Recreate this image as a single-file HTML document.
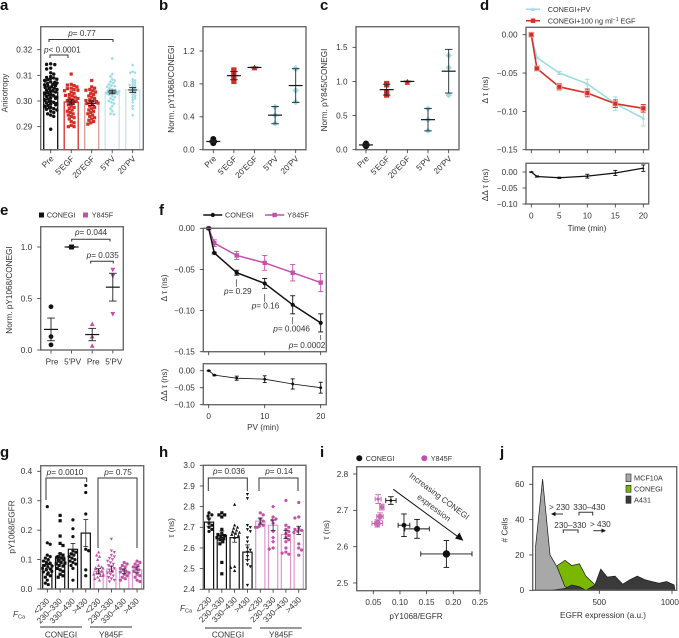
<!DOCTYPE html>
<html lang="en">
<head>
<meta charset="utf-8">
<title>Multi-panel anisotropy and EGFR figure</title>
<style>
html,body{margin:0;padding:0;background:#fff;}
svg{display:block;font-family:"Liberation Sans",Arial,sans-serif;fill:#333;filter:blur(0.3px);}
text{font-size:8.2px;fill:#333;}
.pl{font-size:15px;font-weight:bold;fill:#111;}
.sm{font-size:7.3px;}
.it{font-style:italic;}
</style>
</head>
<body>
<svg id="fig" xmlns="http://www.w3.org/2000/svg" width="679" height="638" viewBox="0 0 679 638">
<g>
<text class="pl" x="0" y="10">a</text>
<text class="pl" x="159" y="10">b</text>
<text class="pl" x="320" y="10">c</text>
<text class="pl" x="480" y="10">d</text>
<text class="pl" x="0" y="215">e</text>
<text class="pl" x="159" y="215">f</text>
<text class="pl" x="0" y="457">g</text>
<text class="pl" x="159" y="457">h</text>
<text class="pl" x="320" y="457">i</text>
<text class="pl" x="500" y="457">j</text>
</g>
<g text-anchor="middle">
<text transform="translate(7.5,93) rotate(-90)">Anisotropy</text>
<text transform="translate(174,89) rotate(-90)">Norm. pY1068/CONEGI</text>
<text transform="translate(327,90) rotate(-90)">Norm. pY845/CONEGI</text>
<text transform="translate(488,90) rotate(-90)">Δ τ (ns)</text>
<text transform="translate(488,185) rotate(-90)">ΔΔ τ (ns)</text>
<text x="587" y="231">Time (min)</text>
<text transform="translate(12,290) rotate(-90)">Norm. pY1068/CONEGI</text>
<text transform="translate(167,288) rotate(-90)">Δ τ (ns)</text>
<text transform="translate(167,385) rotate(-90)">ΔΔ τ (ns)</text>
<text x="263" y="430">PV (min)</text>
<text transform="translate(14.5,527) rotate(-90)">pY1068/EGFR</text>
<text transform="translate(174,528) rotate(-90)">τ (ns)</text>
<text transform="translate(329,530) rotate(-90)">τ (ns)</text>
<text x="416" y="619">pY1068/EGFR</text>
<text transform="translate(507.5,530) rotate(-90)"># Cells</text>
<text x="603" y="618">EGFR expression (a.u.)</text>
</g>
<g id="marks"></g>
<g fill="none" stroke="#333" stroke-width="1">
<path d="M50 58V55H68V58"/>
<path d="M49 42V39.5H113V42"/>
<path d="M71.7 241.5V239.3H110V241.5"/>
<path d="M90.7 263.5V261.3H113.3V263.5"/>
<path d="M46 500V478H86.7V482"/>
<path d="M98 548V478H137V548"/>
<path d="M208.3 491V478H247.3V491"/>
<path d="M259 491V478H298V491"/>
<path d="M236.3 279.3V286.7M264.7 294V301.7M292.7 317V324.3M320.7 335V340" stroke-width="0.7"/>
<path d="M40 627H82M90 627H132M205 628H251.7M260 628H301.7" stroke-width="0.9"/>
<path d="M393.3 489.3L459 537.5" stroke="#111"/>
<path d="M463.3 540.7L455 538.5L459.5 532.5Z" fill="#111" stroke="none"/>
<path d="M563 514H554"/>
<path d="M551 514L555.5 511.8V516.2Z" fill="#111" stroke="none"/>
<path d="M593.3 530.7H603"/>
<path d="M606 530.7L601.5 528.5V532.9Z" fill="#111" stroke="none"/>
<path d="M579 515.5V512.3H592.7V515.5"/>
<path d="M563.3 533V530H578V533"/>
</g>
<g>
<text x="44" y="52.5"><tspan class="it">p</tspan>&lt; 0.0001</text>
<text x="82" y="36" text-anchor="middle"><tspan class="it">p</tspan>= 0.77</text>
<text x="91" y="235" text-anchor="middle"><tspan class="it">p</tspan>= 0.044</text>
<text x="102.7" y="258" text-anchor="middle"><tspan class="it">p</tspan>= 0.035</text>
<text x="224" y="294"><tspan class="it">p</tspan>= 0.29</text>
<text x="251.7" y="308.5"><tspan class="it">p</tspan>= 0.16</text>
<text x="273.3" y="331.5"><tspan class="it">p</tspan>= 0.0046</text>
<text x="288.7" y="347.8"><tspan class="it">p</tspan>= 0.0002</text>
<text x="65" y="475" text-anchor="middle"><tspan class="it">p</tspan>= 0.0010</text>
<text x="118" y="475" text-anchor="middle"><tspan class="it">p</tspan>= 0.75</text>
<text x="229" y="474" text-anchor="middle"><tspan class="it">p</tspan>= 0.036</text>
<text x="279" y="474" text-anchor="middle"><tspan class="it">p</tspan>= 0.14</text>
<text x="61" y="637.5" text-anchor="middle">CONEGI</text>
<text x="111" y="637.5" text-anchor="middle">Y845F</text>
<text x="228" y="637.5" text-anchor="middle">CONEGI</text>
<text x="281" y="637.5" text-anchor="middle">Y845F</text>
<text x="13" y="617"><tspan class="it">F</tspan><tspan font-size="5.5" dy="1.5">Ca</tspan></text>
<text x="180" y="611"><tspan class="it">F</tspan><tspan font-size="5.5" dy="1.5">Ca</tspan></text>
<text transform="translate(437.7,498.3) rotate(36.8)" text-anchor="middle">Increasing CONEGI</text>
<text transform="translate(432.3,510) rotate(36.8)" text-anchor="middle">expression</text>
<text x="549" y="510">&gt; 230</text>
<text x="573.3" y="510">330–430</text>
<text x="554.3" y="528">230–330</text>
<text x="590" y="527">&gt; 430</text>
</g>
<g>
<text class="sm" x="547.7" y="12">CONEGI+PV</text>
<text class="sm" x="547.7" y="23.4">CONEGI+100 ng ml<tspan font-size="5" dy="-2.5">−1</tspan><tspan dy="2.5"> EGF</tspan></text>
<rect x="39" y="212.5" width="5" height="5" fill="#111"/>
<text class="sm" x="46.7" y="217.6">CONEGI</text>
<rect x="83" y="212.5" width="5" height="5" fill="#c450a8"/>
<text class="sm" x="91.7" y="217.6">Y845F</text>
<text class="sm" x="225" y="217.6">CONEGI</text>
<text class="sm" x="287.3" y="217.6">Y845F</text>
<circle cx="359.3" cy="458.3" r="3" fill="#111"/>
<text class="sm" x="365.7" y="461">CONEGI</text>
<circle cx="424.3" cy="458.3" r="3" fill="#c450a8"/>
<text class="sm" x="430.7" y="461">Y845F</text>
<rect x="626" y="474" width="5" height="7.7" fill="#a8a8a8" stroke="#222" stroke-width="0.6"/>
<text class="sm" x="634" y="480.6">MCF10A</text>
<rect x="626" y="485.3" width="5" height="7" fill="#7ab800" stroke="#222" stroke-width="0.6"/>
<text class="sm" x="634" y="491.6">CONEGI</text>
<rect x="626" y="496" width="5" height="7.3" fill="#3a3a3a" stroke="#222" stroke-width="0.6"/>
<text class="sm" x="634" y="502.6">A431</text>
</g>
</svg>
<script>
// ---- Panel a data ----
const aCategories = ["Pre", "5'EGF", "20'EGF", "5'PV", "20'PV"];
const aYTicks = [0.29, 0.30, 0.31, 0.32];
const aMeans = [0.3035, 0.2996, 0.2991, 0.3035, 0.3043];
const aErrors = [0.0008, 0.0008, 0.0009, 0.0007, 0.0009];
const aPre = [0.3145,0.3143,0.3142,0.3128,0.3125,0.311,0.3105,0.3095,0.3092,0.309,0.3088,0.3085,0.3083,0.308,0.3078,0.3075,0.3073,0.307,0.3068,0.3065,0.3063,0.306,0.3058,0.3055,0.3053,0.305,0.3048,0.3045,0.3043,0.304,0.3038,0.3035,0.3033,0.303,0.3028,0.3025,0.3023,0.302,0.3018,0.3015,0.3013,0.301,0.3008,0.3005,0.3003,0.3,0.2998,0.2995,0.2993,0.299,0.2988,0.2985,0.2983,0.298,0.2978,0.2975,0.2973,0.297,0.2968,0.2965,0.296,0.2955,0.295,0.2945,0.294,0.289];
const aEgf5 = [0.3105,0.3065,0.3062,0.306,0.3055,0.305,0.3048,0.3045,0.3042,0.304,0.3035,0.303,0.3025,0.3022,0.302,0.3015,0.3012,0.301,0.3005,0.3002,0.3,0.2998,0.2995,0.299,0.2985,0.298,0.2975,0.297,0.2965,0.296,0.2955,0.295,0.2945,0.294,0.2935,0.293,0.292,0.2915,0.2905,0.29,0.29];
const aEgf20 = [0.308,0.3055,0.305,0.3045,0.3042,0.304,0.3035,0.303,0.3025,0.302,0.3015,0.301,0.3005,0.3002,0.3,0.2998,0.2995,0.2992,0.299,0.2985,0.298,0.2975,0.297,0.2965,0.296,0.2955,0.295,0.2945,0.294,0.2935,0.293,0.2925,0.292,0.2915,0.291];
const aPv5 = [0.3165,0.3105,0.3095,0.3085,0.308,0.3075,0.307,0.3065,0.306,0.3058,0.3055,0.305,0.3045,0.3042,0.304,0.3038,0.3035,0.3032,0.303,0.3028,0.3025,0.302,0.3015,0.301,0.3005,0.3,0.2995,0.299,0.298,0.297,0.296,0.295,0.2948];
const aPv20 = [0.314,0.3115,0.311,0.311,0.3085,0.308,0.3075,0.307,0.3065,0.3062,0.306,0.3055,0.305,0.3045,0.304,0.3035,0.303,0.3025,0.302,0.3015,0.301,0.3005,0.2995,0.298,0.297,0.2945];
// ---- Panel b data ----
const bCategories = ["Pre", "5'EGF", "20'EGF", "5'PV", "20'PV"];
const bYTicks = [0, 0.4, 0.8, 1.2];
const bMeans = [0.1, 0.9, 1.0, 0.42, 0.78];
const bErrors = [0.012, 0.05, 0.005, 0.105, 0.205];
const bPoints = [[0.08,0.09,0.1,0.11,0.13],[0.83,0.87,0.9,0.92,0.96,0.97],[1.0,1.0,0.99],[0.32,0.42,0.52],[0.58,0.72,0.98,0.99]];
// ---- Panel c data ----
const cCategories = ["Pre", "5'EGF", "20'EGF", "5'PV", "20'PV"];
const cYTicks = [0, 0.5, 1.0, 1.5];
const cMeans = [0.07, 0.88, 1.0, 0.44, 1.15];
const cErrors = [0.015, 0.08, 0.005, 0.165, 0.32];
const cPoints = [[0.05,0.07,0.09],[0.8,0.84,0.95,0.97],[1.0,0.98],[0.28,0.44,0.6],[0.8,1.2,1.38]];
// ---- Panel d data ----
const dTimes = [0, 1, 5, 10, 15, 20];
const dYTicks = [0, -0.05, -0.10, -0.15];
const dPv = [0, -0.03, -0.05, -0.064, -0.09, -0.109];
const dPvErr = [0.001, 0.001, 0.002, 0.006, 0.009, 0.01];
const dEgf = [0, -0.044, -0.068, -0.076, -0.09, -0.096];
const dEgfErr = [0.002, 0.003, 0.004, 0.005, 0.005, 0.005];
const dDiff = [0, -0.014, -0.018, -0.013, -0.003, 0.012];
const dDiffErr = [0.001, 0.002, 0.002, 0.006, 0.008, 0.01];
const dDiffTicks = [0, -0.05, -0.10];
const dXTicks = [0, 5, 10, 15, 20];
// ---- Panel e data ----
const eCategories = ["Pre", "5'PV", "Pre", "5'PV"];
const eYTicks = [0, 0.5, 1.0];
const eMeans = [0.2, 1.0, 0.15, 0.61];
const eErrors = [0.11, 0.003, 0.06, 0.135];
const ePoints = [[0.42,0.13,0.05],[1.0,1.0,1.0],[0.25,0.13,0.04],[0.78,0.72,0.35]];
// ---- Panel f data ----
const fTimes = [0, 1, 5, 10, 15, 20];
const fYTicks = [0, -0.05, -0.10, -0.15];
const fConegi = [0, -0.03, -0.054, -0.067, -0.093, -0.115];
const fConegiErr = [0.001, 0.001, 0.003, 0.006, 0.011, 0.011];
const fY845 = [0, -0.018, -0.033, -0.042, -0.054, -0.066];
const fY845Err = [0.001, 0.004, 0.005, 0.009, 0.01, 0.011];
const fDiff = [0, -0.013, -0.022, -0.025, -0.039, -0.05];
const fDiffErr = [0.001, 0.002, 0.006, 0.01, 0.015, 0.016];
const fDiffTicks = [0, -0.05, -0.10];
const fXTicks = [0, 10, 20];
// ---- Panel g data ----
const gCategories = ["<230", "230–330", "330–430", ">430", "<230", "230–330", "330–430", ">430"];
const gYTicks = [0, 0.1, 0.2, 0.3, 0.4];
const gMeans = [0.083, 0.108, 0.135, 0.19, 0.06, 0.068, 0.06, 0.065];
const gErrors = [0.012, 0.012, 0.02, 0.046, 0.009, 0.01, 0.008, 0.01];
const gPoints = [
[0.28,0.157,0.152,0.115,0.11,0.105,0.1,0.095,0.09,0.088,0.085,0.08,0.078,0.075,0.07,0.068,0.065,0.06,0.058,0.055,0.05,0.045,0.04,0.03,0.02,0.015],
[0.25,0.232,0.18,0.155,0.148,0.12,0.115,0.11,0.108,0.105,0.1,0.098,0.095,0.09,0.088,0.085,0.08,0.078,0.07,0.065,0.06,0.05,0.045,0.04],
[0.235,0.205,0.178,0.13,0.125,0.12,0.115,0.11,0.105,0.1,0.095,0.09,0.085,0.08,0.07,0.03],
[0.352,0.328,0.255,0.135,0.13,0.065,0.045],
[0.125,0.115,0.11,0.1,0.08,0.075,0.072,0.07,0.068,0.065,0.06,0.06,0.055,0.055,0.05,0.05,0.045,0.045,0.04,0.035,0.03],
[0.17,0.13,0.125,0.115,0.11,0.105,0.1,0.095,0.09,0.085,0.08,0.075,0.07,0.065,0.06,0.055,0.05,0.045,0.04,0.035,0.03,0.025],
[0.09,0.085,0.08,0.075,0.07,0.065,0.06,0.058,0.055,0.05,0.045,0.04,0.035,0.03],
[0.095,0.09,0.085,0.08,0.075,0.07,0.065,0.06,0.05,0.045,0.04,0.03,0.025]];
// ---- Panel h data ----
const hCategories = ["<230", "230–330", "330–430", ">430", "<230", "230–330", "330–430", ">430"];
const hYTicks = [2.4, 2.5, 2.6, 2.7, 2.8, 2.9, 3.0];
const hMeans = [2.725, 2.66, 2.65, 2.58, 2.73, 2.71, 2.665, 2.685];
const hErrors = [0.02, 0.022, 0.022, 0.035, 0.015, 0.025, 0.02, 0.02];
const hPoints = [
[2.77,2.76,2.755,2.74,2.72,2.71,2.7,2.69,2.68],
[2.77,2.76,2.76,2.75,2.69,2.67,2.665,2.66,2.655,2.65,2.645,2.64,2.63,2.62,2.53,2.475],
[2.81,2.71,2.7,2.695,2.685,2.68,2.675,2.67,2.665,2.66,2.65,2.51,2.505,2.49],
[2.86,2.84,2.71,2.7,2.69,2.68,2.65,2.63,2.6,2.59,2.58,2.56,2.54,2.52,2.51,2.42],
[2.77,2.76,2.74,2.73,2.72,2.71,2.705,2.7,2.7],
[2.8,2.75,2.74,2.735,2.72,2.68,2.65,2.63,2.6,2.595],
[2.83,2.71,2.7,2.69,2.68,2.67,2.66,2.65,2.64,2.63,2.6,2.58,2.575,2.57],
[2.82,2.75,2.745,2.695,2.69,2.685,2.68,2.675,2.62,2.6,2.59,2.565]];
// ---- Panel i data ----
const iXTicks = [0.05, 0.10, 0.15, 0.20, 0.25];
const iYTicks = [2.5, 2.6, 2.7, 2.8];
const iConegiX = [0.083, 0.1075, 0.132, 0.187];
const iConegiY = [2.727, 2.659, 2.649, 2.58];
const iConegiXErr = [0.0097, 0.011, 0.023, 0.048];
const iConegiYErr = [0.0105, 0.031, 0.026, 0.037];
const iY845X = [0.059, 0.066, 0.0625, 0.0575];
const iY845Y = [2.731, 2.709, 2.683, 2.664];
const iY845XErr = [0.0056, 0.004, 0.006, 0.01];
const iY845YErr = [0.012, 0.008, 0.01, 0.01];
// ---- Panel j data ----
const jXTicks = [500, 1000];
const jYTicks = [0, 20, 40, 60];
const jMcfX = [62, 62, 110, 161, 211, 264, 310, 367];
const jMcfY = [0, 25, 63, 20, 13, 2, 1, 0];
const jConegiX = [75, 115, 161, 211, 264, 310, 363, 408, 459, 505, 615, 625];
const jConegiY = [0, 1, 5, 14, 17, 14, 15, 8, 4, 1, 1, 0];
const jA431X = [161, 264, 310, 363, 408, 470, 510, 555, 608, 661, 711, 761, 814, 860, 912, 963, 1015, 1020];
const jA431Y = [0, 1, 3, 2, 0, 3, 12, 7.5, 8, 3.5, 6, 8, 6, 5, 4, 5, 3, 0];

const NS = "http://www.w3.org/2000/svg";
const root = document.getElementById("marks");
const C = {black:"#111", red:"#d32f27", redL:"#e39a95", blue:"#9fdce4", blueL:"#c2e8ec", mag:"#c450a8", magL:"#dc9ad0", frame:"#6a6a6a", tick:"#333"};

function mk(parent, tag, name, attrs, text) {
  const el = document.createElementNS(NS, tag);
  
  
  for (const k in attrs) el.setAttribute(k, attrs[k]);
  if (text !== undefined) el.textContent = text;
  parent.appendChild(el);
  return el;
}
// linear scale through two calibration anchors (data a -> pixel pa, data b -> pixel pb)
function lin(a, pa, b, pb) { return v => pa + (v - a) * (pb - pa) / (b - a); }
function fmt(v, d) { return v.toFixed(d).replace("-", "−"); }

function frame(g, name, b) {
  mk(g, "rect", name + "-frame", {x:b.x0, y:b.y0, width:b.x1-b.x0, height:b.y1-b.y0, fill:"none", stroke:C.frame, "stroke-width":1.4});
}
function yAxis(g, name, b, ticks, y, d) {
  ticks.forEach(t => {
    mk(g, "line", name + "-y-tick", {x1:b.x0-3.5, x2:b.x0, y1:y(t), y2:y(t), stroke:C.tick, "stroke-width":0.8});
    mk(g, "text", name + "-y-tick-label", {x:b.x0-8.5, y:y(t)+2.9, "text-anchor":"end"}, fmt(t, d));
  });
}
function xAxisNum(g, name, b, ticks, x, d, labelled) {
  ticks.forEach(t => {
    mk(g, "line", name + "-x-tick", {x1:x(t), x2:x(t), y1:b.y1, y2:b.y1+3.5, stroke:C.tick, "stroke-width":0.8});
    // labels near the page edge are pulled inward so they stay on the canvas
    if (labelled) mk(g, "text", name + "-x-tick-label", {x:Math.min(x(t), 669.8), y:b.y1+14.5, "text-anchor":"middle"}, fmt(t, d));
  });
}
function xAxisCat(g, name, b, cats, x, dx, dy) {
  cats.forEach((c, i) => {
    mk(g, "line", name + "-x-tick", {x1:x(i), x2:x(i), y1:b.y1, y2:b.y1+3.5, stroke:C.tick, "stroke-width":0.8});
    mk(g, "text", name + "-x-tick-label", {transform:"translate(" + (x(i)+dx) + "," + (b.y1+dy) + ") rotate(-45)", "text-anchor":"end"}, c);
  });
}
function marker(g, name, shape, cx, cy, r, color, extra) {
  const a = Object.assign({fill:color}, extra || {});
  if (shape === "circle") { a.cx = cx; a.cy = cy; a.r = r; return mk(g, "circle", name, a); }
  if (shape === "square") { a.x = cx-r; a.y = cy-r; a.width = 2*r; a.height = 2*r; return mk(g, "rect", name, a); }
  let d = "";
  if (shape === "up") d = `M${cx} ${cy-r*1.1}L${cx+r} ${cy+r*.8}L${cx-r} ${cy+r*.8}Z`;
  if (shape === "down") d = `M${cx} ${cy+r*1.1}L${cx+r} ${cy-r*.8}L${cx-r} ${cy-r*.8}Z`;
  if (shape === "diamond") d = `M${cx} ${cy-r*1.25}L${cx+r*1.25} ${cy}L${cx} ${cy+r*1.25}L${cx-r*1.25} ${cy}Z`;
  a.d = d;
  return mk(g, "path", name, a);
}
// greedy beeswarm: returns pixel x offset for each point, computed from its pixel y
function swarm(ys, r, maxW) {
  const placed = [], out = [], step = r * 0.6;
  ys.forEach(py => {
    let best = 0, found = false;
    for (let k = 0; k * step <= maxW && !found; k++) {
      for (const sgn of (k % 2 ? [1, -1] : [-1, 1])) {
        const off = sgn * k * step;
        if (placed.every(p => Math.hypot(p[0]-off, p[1]-py) >= r * 1.95)) { best = off; found = true; break; }
      }
    }
    if (!found) best = (out.length % 2 ? 1 : -1) * maxW * ((out.length * 7 % 10) / 10);
    placed.push([best, py]);
    out.push(best);
  });
  return out;
}
function errBar(g, name, cx, y, mean, err, cap, color, w) {
  mk(g, "line", name + "-stem", {x1:cx, x2:cx, y1:y(mean-err), y2:y(mean+err), stroke:color, "stroke-width":w});
  mk(g, "line", name + "-cap-low", {x1:cx-cap, x2:cx+cap, y1:y(mean-err), y2:y(mean-err), stroke:color, "stroke-width":w});
  mk(g, "line", name + "-cap-high", {x1:cx-cap, x2:cx+cap, y1:y(mean+err), y2:y(mean+err), stroke:color, "stroke-width":w});
}

// Panel a -------------------------------------------------------------
(function () {
  const g = mk(root, "g", "panel-a-chart", {});
  const b = {x0:40.7, x1:143.3, y0:26.7, y1:149.7};
  const y = lin(0.30, 101, 0.32, 49.7);
  const x = i => 50.7 + 20.5 * i;
  const sets = [aPre, aEgf5, aEgf20, aPv5, aPv20];
  const bar = [C.black, C.red, C.redL, C.blueL, C.blueL];
  const dot = [C.black, C.red, C.red, C.blue, C.blue];
  const shp = ["circle", "square", "square", "diamond", "diamond"];
  const rad = [1.7, 1.6, 1.6, 1.4, 1.3];
  aMeans.forEach((m, i) => {
    mk(g, "rect", "a-bar-" + i, {x:x(i)-7, y:y(m), width:14, height:b.y1-y(m), fill:"#fff", stroke:bar[i], "stroke-width":1.3});
  });
  sets.forEach((vals, i) => {
    const pys = vals.map(y);
    const off = swarm(pys, rad[i], 7);
    vals.forEach((v, j) => marker(g, "a-point-" + i, shp[i], x(i)+off[j], pys[j], rad[i], dot[i]));
  });
  aMeans.forEach((m, i) => {
    errBar(g, "a-error-" + i, x(i), y, m, aErrors[i], 3.5, "#111", 0.9);
    mk(g, "line", "a-mean-" + i, {x1:x(i)-4.5, x2:x(i)+4.5, y1:y(m), y2:y(m), stroke:"#111", "stroke-width":0.9});
  });
  frame(g, "a", b);
  yAxis(g, "a", b, aYTicks, y, 2);
  xAxisCat(g, "a", b, aCategories, x, 3.5, 9.5);
})();

// Panels b & c --------------------------------------------------------
function dotPanel(name, b, y, x, cats, ticks, pts, means, errs, d) {
  const g = mk(root, "g", "panel-" + name + "-chart", {});
  const dot = [C.black, C.red, C.red, C.blue, C.blue];
  const shp = ["circle", "square", "up", "diamond", "diamond"];
  pts.forEach((vals, i) => {
    vals.forEach(v => marker(g, name + "-point-" + i, shp[i], x(i), y(v), i === 0 ? 3 : 2.6, dot[i]));
    errBar(g, name + "-error-" + i, x(i), y, means[i], errs[i], 3.8, "#1c2a2c", 0.9);
    mk(g, "line", name + "-mean-" + i, {x1:x(i)-7, x2:x(i)+7, y1:y(means[i]), y2:y(means[i]), stroke:"#151515", "stroke-width":1.2});
  });
  frame(g, name, b);
  yAxis(g, name, b, ticks, y, 1);
  xAxisCat(g, name, b, cats, x, 3.5, 9.5);
}
dotPanel("b", {x0:203, x1:306, y0:26.7, y1:149.7}, lin(0, 149.7, 1.2, 51), i => 213.3 + 20.6 * i, bCategories, bYTicks, bPoints, bMeans, bErrors);
dotPanel("c", {x0:356, x1:459, y0:26.7, y1:149.7}, lin(0, 149.7, 1.5, 47.3), i => 366 + 20.67 * i, cCategories, cYTicks, cPoints, cMeans, cErrors);

// Line helpers --------------------------------------------------------
function series(g, name, xs, vals, errs, x, y, color, w, shape, r, cap, halo) {
  xs.forEach((t, i) => errBar(g, name + "-error", x(t), y, vals[i], errs[i], cap, color, 0.9));
  const pts = xs.map((t, i) => x(t) + "," + y(vals[i])).join(" ");
  mk(g, "polyline", name + "-line", {points:pts, fill:"none", stroke:color, "stroke-width":w});
  xs.forEach((t, i) => {
    if (halo) marker(g, name + "-halo", shape, x(t), y(vals[i]), r + 0.9, halo);
    marker(g, name + "-point", shape, x(t), y(vals[i]), r, color);
  });
}

// Panel d -------------------------------------------------------------
(function () {
  const g = mk(root, "g", "panel-d-chart", {});
  const b = {x0:526, x1:648.7, y0:27.3, y1:149.7};
  const b2 = {x0:526, x1:648.7, y0:163.3, y1:204};
  const x = lin(0, 531.3, 20, 643.3);
  const y = lin(0, 34.7, -0.15, 149.7);
  const y2 = lin(0, 172, -0.10, 204);
  series(g, "d-pv", dTimes, dPv, dPvErr, x, y, C.blue, 1.6, "up", 1.9, 2.5);
  series(g, "d-egf", dTimes, dEgf, dEgfErr, x, y, C.red, 1.6, "square", 2, 2.5, "#eda7a2");
  frame(g, "d", b);
  yAxis(g, "d", b, dYTicks, y, 2);
  xAxisNum(g, "d", b, dXTicks, x, 0, false);
  series(g, "d-diff", dTimes, dDiff, dDiffErr, x, y2, "#111", 1.3, "up", 1.2, 2);
  frame(g, "d-diff", b2);
  yAxis(g, "d-diff", b2, dDiffTicks, y2, 2);
  xAxisNum(g, "d-diff", b2, dXTicks, x, 0, true);
  mk(g, "line", "d-legend-pv-line", {x1:526, x2:540, y1:9.3, y2:9.3, stroke:C.blue, "stroke-width":1.6});
  marker(g, "d-legend-pv-marker", "up", 533, 9.3, 2, C.blue);
  mk(g, "line", "d-legend-egf-line", {x1:526, x2:540, y1:20.7, y2:20.7, stroke:C.red, "stroke-width":1.6});
  marker(g, "d-legend-egf-marker", "square", 533, 20.7, 2.2, C.red);
})();

// Panel e -------------------------------------------------------------
(function () {
  const g = mk(root, "g", "panel-e-chart", {});
  const b = {x0:40.7, x1:123.3, y0:226.7, y1:350};
  const y = lin(0, 350, 1.0, 247);
  const x = i => 51 + 20.6 * i;
  const dot = [C.black, C.black, C.mag, C.mag];
  const shp = ["circle", "square", "up", "down"];
  ePoints.forEach((vals, i) => {
    vals.forEach(v => marker(g, "e-point-" + i, shp[i], x(i), y(v), 2.4, dot[i]));
    errBar(g, "e-error-" + i, x(i), y, eMeans[i], eErrors[i], 3.8, "#222", 0.9);
    mk(g, "line", "e-mean-" + i, {x1:x(i)-7, x2:x(i)+7, y1:y(eMeans[i]), y2:y(eMeans[i]), stroke:"#151515", "stroke-width":1.2});
    mk(g, "line", "e-x-tick", {x1:x(i), x2:x(i), y1:b.y1, y2:b.y1+3.5, stroke:C.tick, "stroke-width":0.8});
    mk(g, "text", "e-x-tick-label", {x:x(i)+1, y:b.y1+14.5, "text-anchor":"middle"}, eCategories[i]);
  });
  frame(g, "e", b);
  yAxis(g, "e", b, eYTicks, y, 1);
})();

// Panel f -------------------------------------------------------------
(function () {
  const g = mk(root, "g", "panel-f-chart", {});
  const b = {x0:203.3, x1:326.3, y0:228.3, y1:351.7};
  const b2 = {x0:203.3, x1:326.3, y0:363.7, y1:404.7};
  const x = lin(0, 208.7, 20, 320.7);
  const y = lin(0, 228.3, -0.15, 351.7);
  const y2 = lin(0, 370.7, -0.10, 404.7);
  series(g, "f-y845f", fTimes, fY845, fY845Err, x, y, C.mag, 1.5, "square", 2.2, 2.5);
  series(g, "f-conegi", fTimes, fConegi, fConegiErr, x, y, "#111", 1.5, "circle", 2.1, 2.5);
  frame(g, "f", b);
  yAxis(g, "f", b, fYTicks, y, 2);
  xAxisNum(g, "f", b, fXTicks, x, 0, false);
  series(g, "f-diff", fTimes, fDiff, fDiffErr, x, y2, "#111", 0.8, "circle", 1.4, 2);
  frame(g, "f-diff", b2);
  yAxis(g, "f-diff", b2, fDiffTicks, y2, 2);
  xAxisNum(g, "f-diff", b2, fXTicks, x, 0, true);
  mk(g, "line", "f-legend-conegi-line", {x1:203.3, x2:222.3, y1:215, y2:215, stroke:"#111", "stroke-width":1.5});
  marker(g, "f-legend-conegi-marker", "circle", 212.8, 215, 2.1, "#111");
  mk(g, "line", "f-legend-y845f-line", {x1:265, x2:284.3, y1:215, y2:215, stroke:C.mag, "stroke-width":1.5});
  marker(g, "f-legend-y845f-marker", "square", 274.6, 215, 2.2, C.mag);
})();

// Panels g & h --------------------------------------------------------
function barPanel(name, b, y, x, cats, ticks, pts, means, errs, d, shapes, r, dx, dy) {
  const g = mk(root, "g", "panel-" + name + "-chart", {});
  means.forEach((m, i) => {
    mk(g, "rect", name + "-bar-" + i, {x:x(i)-4.6, y:y(m), width:9.2, height:b.y1-y(m), fill:"#fff", stroke:i < 4 ? "#111" : C.magL, "stroke-width":1.2});
  });
  pts.forEach((vals, i) => {
    const pys = vals.map(y);
    const off = swarm(pys, r, 5);
    const col = i < 4 ? "#111" : C.mag;
    vals.forEach((v, j) => marker(g, name + "-point-" + i, shapes[i], x(i)+off[j], pys[j], r, col));
  });
  means.forEach((m, i) => {
    errBar(g, name + "-error-" + i, x(i), y, m, errs[i], 2.4, "#222", 0.8);
  });
  frame(g, name, b);
  yAxis(g, name, b, ticks, y, 1);
  xAxisCat(g, name, b, cats, x, dx, dy);
}
barPanel("g", {x0:40.7, x1:143.7, y0:465.7, y1:589}, lin(0, 589, 0.4, 471.3), i => 47.3 + 12.82 * i, gCategories, gYTicks, gPoints, gMeans, gErrors, 1, ["circle","square","circle","circle","up","down","circle","circle"], 1.6, 2.5, 12.5);
barPanel("h", {x0:203.3, x1:306, y0:465.3, y1:589.3}, lin(2.4, 589.3, 3.0, 465.3), i => 209 + 12.82 * i, hCategories, hYTicks, hPoints, hMeans, hErrors, 1, ["circle","square","up","down","circle","diamond","circle","circle"], 1.6, 3, 11);

// Panel i -------------------------------------------------------------
(function () {
  const g = mk(root, "g", "panel-i-chart", {});
  const b = {x0:356.7, x1:480, y0:466.7, y1:590.7};
  const x = lin(0.05, 373.3, 0.25, 480);
  const y = lin(2.8, 474, 2.5, 583);
  const rC = [1.4, 2.4, 3, 3.7], rY = [1.6, 2.2, 2.8, 3.6];
  function draw(nm, xs, ys, xe, ye, rs, col, fillOp) {
    xs.forEach((v, i) => {
      errBar(g, nm + "-y-error", x(v), y, ys[i], ye[i], 2.8, col, 0.9);
      mk(g, "line", nm + "-x-error", {x1:x(v-xe[i]), x2:x(v+xe[i]), y1:y(ys[i]), y2:y(ys[i]), stroke:col, "stroke-width":0.9});
      mk(g, "line", nm + "-x-cap-low", {x1:x(v-xe[i]), x2:x(v-xe[i]), y1:y(ys[i])-2.5, y2:y(ys[i])+2.5, stroke:col, "stroke-width":0.9});
      mk(g, "line", nm + "-x-cap-high", {x1:x(v+xe[i]), x2:x(v+xe[i]), y1:y(ys[i])-2.5, y2:y(ys[i])+2.5, stroke:col, "stroke-width":0.9});
      mk(g, "circle", nm + "-point", {cx:x(v), cy:y(ys[i]), r:rs[i], fill:col, "fill-opacity":fillOp});
    });
  }
  draw("i-conegi", iConegiX, iConegiY, iConegiXErr, iConegiYErr, rC, "#111", 1);
  draw("i-y845f", iY845X, iY845Y, iY845XErr, iY845YErr, rY, "#c95fb0", 0.9);
  frame(g, "i", b);
  yAxis(g, "i", b, iYTicks, y, 1);
  xAxisNum(g, "i", b, iXTicks, x, 2, true);
})();

// Panel j -------------------------------------------------------------
(function () {
  const g = mk(root, "g", "panel-j-chart", {});
  const b = {x0:532.7, x1:676.7, y0:466.7, y1:590.3};
  const x = lin(500, 599.3, 1000, 672);
  const y = lin(0, 590.3, 60, 484.3);
  function area(nm, xs, ys, fill) {
    const pts = xs.map((v, i) => x(v) + "," + y(ys[i])).join(" ");
    mk(g, "polygon", nm, {points:pts, fill:fill, stroke:"#1a1a1a", "stroke-width":0.7});
  }
  area("j-area-conegi", jConegiX, jConegiY, "#7ab800");
  area("j-area-mcf10a", jMcfX, jMcfY, "#a8a8a8");
  area("j-area-a431", jA431X, jA431Y, "#3a3a3a");
  frame(g, "j", b);
  yAxis(g, "j", b, jYTicks, y, 0);
  xAxisNum(g, "j", b, jXTicks, x, 0, true);
})();
</script>
</body>
</html>
